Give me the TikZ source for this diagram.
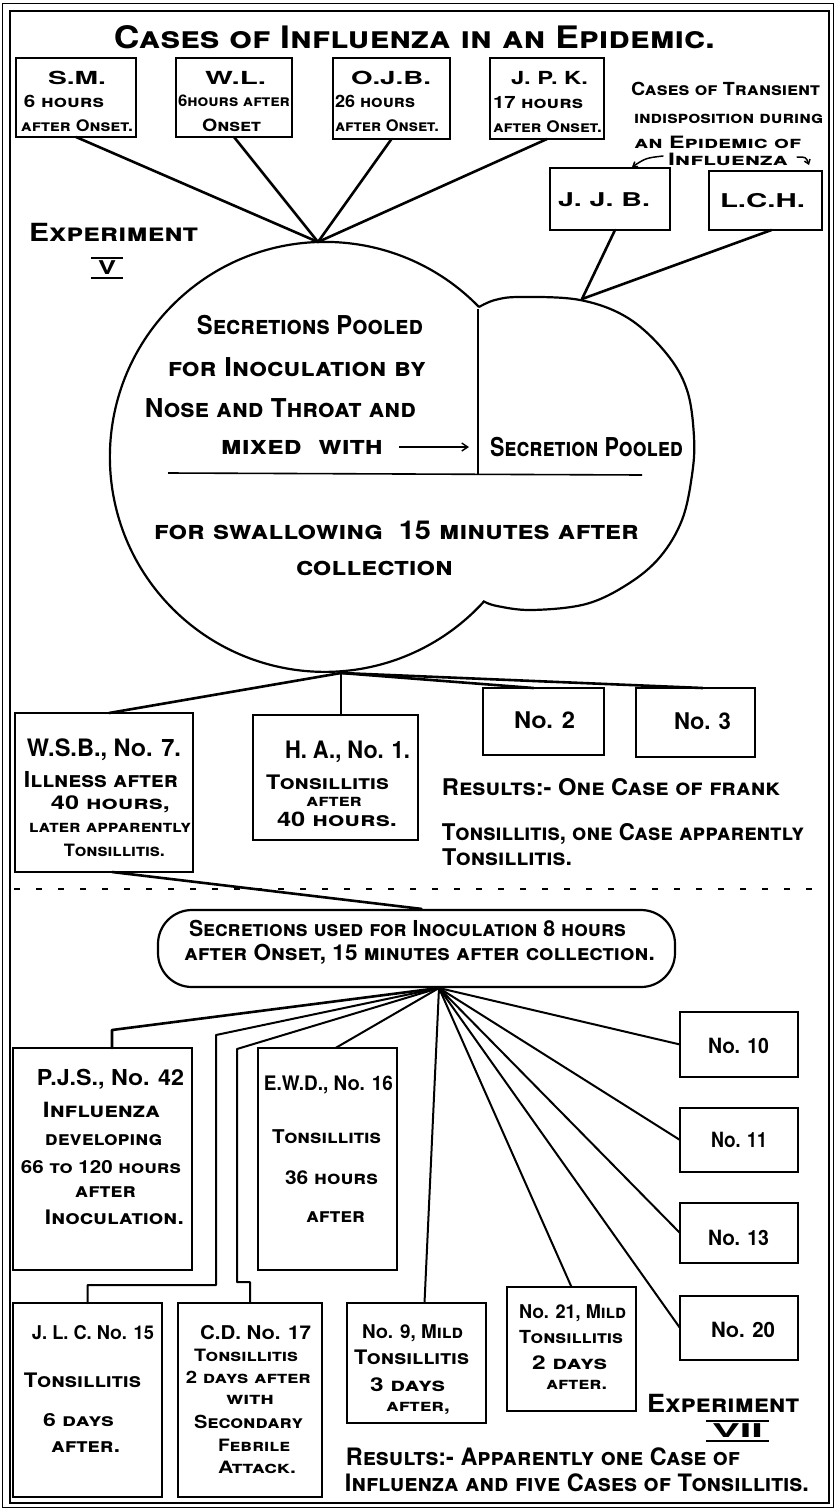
\documentclass[tikz,border=0pt]{standalone}
\usepackage{fontspec}
\setmainfont{TeX Gyre Heros}
\usepackage{graphicx}
\usetikzlibrary{arrows.meta,calc}
\tikzset{
  txt/.style={inner sep=0pt, outer sep=0pt, text depth=0pt},
  box/.style={draw, line width=2.6pt, inner sep=0pt, outer sep=0pt},
  con/.style={line width=2.6pt, line cap=round, line join=round},
  thincon/.style={line width=2pt, line cap=round, line join=round},
  rule/.style={line width=1.6pt},
  bar/.style={line width=2pt},
}
\newcommand\TL[6]{\node[txt] (#1) at ({(#2+#3)/2},#4) {\resizebox{\dimexpr #3pt-#2pt\relax}{\height}{\fontsize{#5}{#5}\selectfont\bfseries\scshape #6}};}
\newcommand\BX[5]{\node[box, minimum width={(#4-#2)*1pt}, minimum height={(#5-#3)*1pt}] (#1) at ({(#2+#4)/2},{(#3+#5)/2}) {};}
\begin{document}
\begin{tikzpicture}[x=1pt,y=-1pt]
\useasboundingbox (0,0) rectangle (835,1509);
% frame
\draw[line width=0.8pt] (2,3) rectangle (833,1507);
\draw[line width=2.5pt] (10,11) rectangle (829,1503);

% title
\TL{title}{114}{715}{37}{31}{Cases of Influenza in an Epidemic.}

% top boxes
\BX{sm}{16}{58}{136}{137}
\BX{wl}{176}{58}{292}{137}
\BX{ojb}{333}{58}{450}{139}
\BX{jpk}{490}{58}{604}{139}
\TL{sm1}{48}{106}{78}{18}{S.M.}
\TL{sm2}{24}{104}{101}{17}{6 hours}
\TL{sm3}{21}{133}{126}{16}{after Onset.}
\TL{wl1}{205}{266}{78}{18}{W.L.}
\TL{wl2}{178}{290}{101}{16}{6hours after}
\TL{wl3}{202}{261}{125}{17}{Onset}
\TL{ojb1}{351}{431}{78}{18}{O.J.B.}
\TL{ojb2}{335}{415}{101}{17}{26 hours}
\TL{ojb3}{335}{439}{126}{16}{after Onset.}
\TL{jpk1}{511}{588}{78}{18}{J. P. K.}
\TL{jpk2}{493}{583}{102}{17}{17 hours}
\TL{jpk3}{493}{602}{127}{16}{after Onset.}

% transient cases
\TL{tr1}{631}{820}{89}{18}{Cases of Transient}
\TL{tr2}{634}{823}{119}{17}{indisposition during}
\TL{tr3}{634}{801}{142}{17}{an Epidemic of}
\TL{tr4}{668}{788}{159}{17}{Influenza}
\BX{jjb}{550}{168}{670}{230}
\BX{lch}{709}{171}{822}{230}
\TL{jjb1}{558}{650}{200}{19}{J. J. B.}
\TL{lch1}{720}{805}{200}{19}{L.C.H.}
\draw[thincon, line width=1.5pt, -{Straight Barb[length=4pt,width=6pt]}] ($(tr4.west)+(-5,-3)$) .. controls ($(tr4.west)+(-22,-1)$) .. ($(jjb.north)+(22,-1)$);
\draw[thincon, line width=1.5pt, -{Straight Barb[length=4pt,width=6pt]}] ($(tr4.east)+(9,-2)$) .. controls ($(tr4.east)+(18,-2)$) .. ($(tr4.east)+(21,6)$);

% experiment V
\TL{exp5}{29}{198}{232}{25}{Experiment}
\TL{v5}{98}{116}{268}{19}{V}
\draw[bar] ($(v5.north west)+(-7,-3)$) -- ($(v5.north east)+(7,-3)$);
\draw[bar] ($(v5.south west)+(-7,3)$) -- ($(v5.south east)+(7,3)$);

% big pooled shape
\draw[line width=2.2pt] (479,307) arc[start angle=-44.2, end angle=-317.7, radius=215];
\draw[line width=2.2pt] plot[smooth, tension=0.6] coordinates {(483,601) (497,606) (532,610) (586,604) (628,584) (660,557) (682,520) (692,475) (694,437) (687,390) (666,353) (628,318) (580,300) (520,297) (495,300) (479,307)};
\draw[rule] (478,309) -- (478,474);
\draw[rule] (168,473) -- (642,475);
\coordinate (cv1) at (318,242);
\coordinate (cv2) at (582,299);
\draw[con] (sm.south) -- (cv1);
\draw[con] (wl.south) -- (cv1);
\draw[con] (ojb.south) -- (cv1);
\draw[con] (jpk.south) -- (cv1);
\draw[con] ($(jjb.south)+(5,0)$) -- (cv2);
\draw[con] ($(lch.south)+(6,0)$) -- (cv2);

\TL{c1}{197}{423}{325}{26}{Secretions Pooled}
\TL{c2}{168}{426}{367}{26}{for Inoculation by}
\TL{c3}{145}{416}{408}{26}{Nose and Throat and}
\TL{c4}{221}{383}{447}{26}{mixed\ \ with}
\TL{c5}{490}{683}{447}{26}{Secretion Pooled}
\draw[line width=1.4pt, -{Straight Barb[length=6pt,width=8pt]}] ($(c4.east)+(16,0)$) -- ($(c5.west)+(-21,0)$);
\TL{c6}{154}{639}{530}{26}{for swallowing\ \ 15 minutes after}
\TL{c7}{296}{453}{568}{26}{collection}

% experiment V results
\coordinate (cv3) at (341,673);
\BX{wsb}{15}{713}{193}{872}
\BX{ha}{253}{715}{418}{840}
\BX{no2}{483}{688}{604}{755}
\BX{no3}{636}{688}{755}{757}
\draw[con] (cv3) -- ($(wsb.north)+(5,0)$);
\draw[con] (cv3) -- (cv3 |- ha.north);
\draw[con] (cv3) -- ($(no2.north)+(-10,0)$);
\draw[con] (cv3) -- ($(no3.north)+(7,0)$);
\TL{wsb1}{27}{181}{748}{24}{W.S.B., No. 7.}
\TL{wsb2}{24}{178}{779}{22}{Illness after}
\TL{wsb3}{51}{170}{803}{19}{40 hours,}
\TL{wsb4}{29}{191}{828}{17}{later apparently}
\TL{wsb5}{64}{165}{850}{17}{Tonsillitis.}
\TL{ha1}{285}{410}{750}{24}{H. A., No. 1.}
\TL{ha2}{266}{389}{782}{20}{Tonsillitis}
\TL{ha3}{306}{362}{802}{17}{after}
\TL{ha4}{277}{397}{819}{20}{40 hours.}
\TL{n2}{514}{575}{720}{23}{No. 2}
\TL{n3}{674}{731}{721}{23}{No. 3}
\TL{r1}{442}{780}{787}{23}{Results:- One Case of frank}
\TL{r2}{442}{804}{832}{23}{Tonsillitis, one Case apparently}
\TL{r3}{442}{572}{857}{23}{Tonsillitis.}

% separator
\draw[line width=2.5pt, dash pattern=on 6pt off 16pt] (14,889) -- (826,889);

% pill
\node[draw, line width=2.2pt, rounded corners=34pt, minimum width=517pt, minimum height=77pt, inner sep=0pt] (pill) at (416.5,948.5) {};
\draw[con] ($(wsb.south)+(8,0)$) -- ($(pill.north)+(5,0)$);
\TL{p1}{189}{626}{928}{22}{Secretions used for Inoculation 8 hours}
\TL{p2}{184}{655}{952}{22}{after Onset, 15 minutes after collection.}

% lower boxes
\coordinate (cv4) at (439,988);
\BX{pjs}{13}{1048}{192}{1270}
\BX{ewd}{258}{1048}{397}{1270}
\BX{n10b}{680}{1012}{798}{1077}
\BX{n11b}{680}{1108}{798}{1172}
\BX{n13b}{680}{1203}{798}{1263}
\BX{n20b}{680}{1296}{798}{1360}
\BX{jlc}{13}{1303}{162}{1497}
\BX{cd}{178}{1303}{322}{1497}
\BX{n9b}{347}{1303}{486}{1423}
\BX{n21b}{507}{1287}{636}{1411}
\coordinate (k1) at (112,1030);
\coordinate (k2) at (216,1035);
\coordinate (k3) at (216,1285);
\coordinate (k4) at (237,1049);
\coordinate (k5) at (237,1282);
\draw[con] (cv4) -- (k1) -- (k1 |- pjs.north);
\draw[thincon] (cv4) -- (k2) -- (k3) -- (k3 -| jlc.north) -- (jlc.north);
\draw[thincon] (cv4) -- (k4) -- (k5) -- (k5 -| cd.north) -- (cd.north);
\draw[thincon] (cv4) -- ($(ewd.north)+(8,0)$);
\draw[thincon] (cv4) -- ($(n9b.north)+(8,0)$);
\draw[thincon] (cv4) -- (n21b.north);
\draw[thincon] (cv4) -- (n10b.west);
\draw[thincon] (cv4) -- (n11b.west);
\draw[thincon] (cv4) -- (n13b.west);
\draw[thincon] (cv4) -- (n20b.west);

\TL{pjs1}{37}{184}{1077}{22}{P.J.S., No. 42}
\TL{pjs2}{43}{160}{1110}{21}{Influenza}
\TL{pjs3}{45}{162}{1140}{20}{developing}
\TL{pjs4}{21}{181}{1167}{18}{66 to 120 hours}
\TL{pjs5}{75}{136}{1192}{20}{after}
\TL{pjs6}{45}{184}{1217}{20}{Inoculation.}
\TL{ewd1}{264}{393}{1083}{20}{E.W.D., No. 16}
\TL{ewd2}{272}{381}{1137}{19}{Tonsillitis}
\TL{ewd3}{285}{378}{1178}{19}{36 hours}
\TL{ewd4}{306}{365}{1217}{20}{after}
\TL{n10}{708}{769}{1046}{21}{No. 10}
\TL{n11}{711}{767}{1140}{21}{No. 11}
\TL{n13}{708}{769}{1238}{21}{No. 13}
\TL{n20}{711}{775}{1330}{21}{No. 20}
\TL{jlc1}{32}{154}{1332}{19}{J. L. C. No. 15}
\TL{jlc2}{24}{141}{1380}{20}{Tonsillitis}
\TL{jlc3}{43}{114}{1420}{18}{6 days}
\TL{jlc4}{51}{120}{1447}{20}{after.}
\TL{cd1}{200}{311}{1332}{19}{C.D. No. 17}
\TL{cd2}{194}{298}{1355}{17}{Tonsillitis}
\TL{cd3}{186}{311}{1377}{17}{2 days after}
\TL{cd4}{226}{274}{1400}{17}{with}
\TL{cd5}{194}{303}{1422}{18}{Secondary}
\TL{cd6}{218}{290}{1445}{17}{Febrile}
\TL{cd7}{218}{296}{1467}{17}{Attack.}
\TL{n91}{362}{463}{1332}{19}{No. 9, Mild}
\TL{n92}{354}{469}{1357}{20}{Tonsillitis}
\TL{n93}{370}{445}{1385}{19}{3 days}
\TL{n94}{386}{450}{1407}{17}{after,}
\TL{n211}{519}{626}{1312}{19}{No. 21, Mild}
\TL{n212}{519}{623}{1337}{18}{Tonsillitis}
\TL{n213}{532}{607}{1363}{19}{2 days}
\TL{n214}{546}{607}{1385}{17}{after.}
\TL{exp7}{647}{799}{1403}{25}{Experiment}
\TL{v7}{712}{763}{1431}{19}{VII}
\draw[bar] ($(v7.north west)+(-6,-3)$) -- ($(v7.north east)+(6,-3)$);
\draw[bar] ($(v7.south west)+(-6,3)$) -- ($(v7.south east)+(6,3)$);
\TL{res1}{346}{740}{1457}{24}{Results:- Apparently one Case of}
\TL{res2}{345}{809}{1483}{24}{Influenza and five Cases of Tonsillitis.}
\end{tikzpicture}
\end{document}
